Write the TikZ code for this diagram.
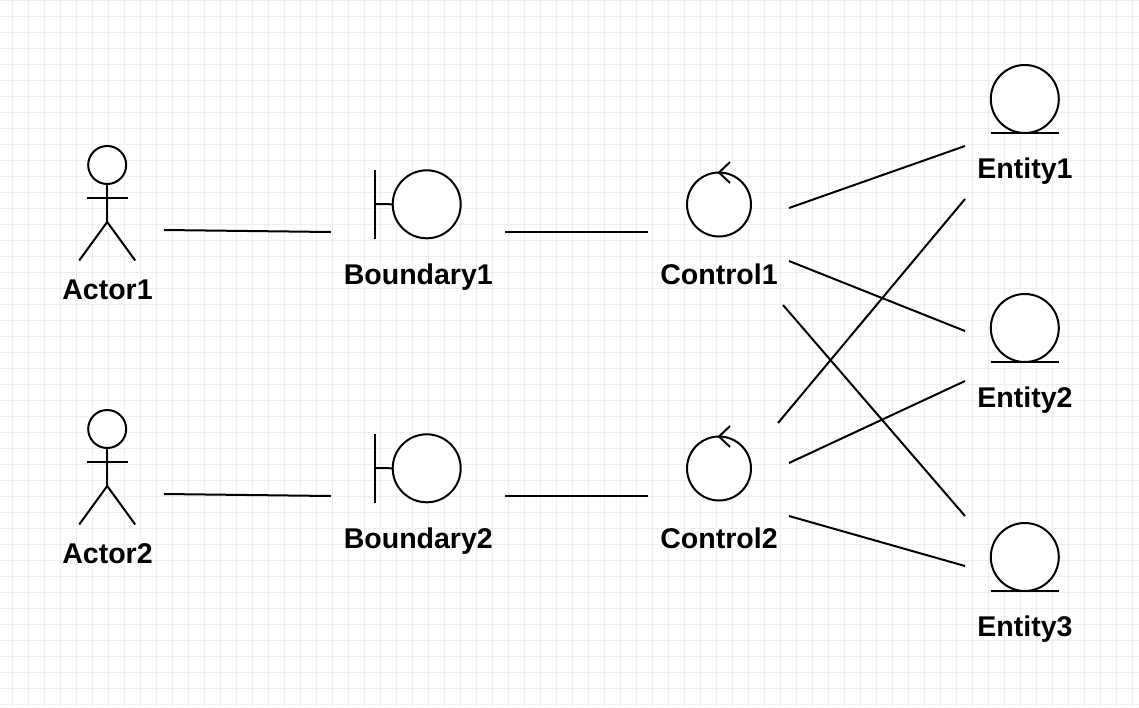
\documentclass[tikz,border=0pt]{standalone}
\usepackage{fontspec}
\setmainfont{Liberation Sans}
\usetikzlibrary{positioning}
\definecolor{gridgray}{HTML}{EEEEEE}
\tikzset{
  stroke/.style={line width=1.5pt, black},
  ball/.style={circle, draw=black, line width=1.5pt, fill=white, inner sep=0pt, outer sep=0pt},
  headball/.style={ball, minimum size=28.5pt},
  bigball/.style={ball, minimum size=51pt},
  ctrlball/.style={ball, minimum size=48pt},
  caption/.style={font=\fontsize{21.4}{26}\selectfont\bfseries, inner sep=0pt, anchor=base},
}
\begin{document}
\begin{tikzpicture}[x=0.75pt, y=-0.75pt]
\useasboundingbox (0,0) rectangle (1139,707);

% background grid
\foreach \gx in {0,...,70}
  \draw[gridgray, line width=0.75pt] ({12.5+16*\gx},0) -- ({12.5+16*\gx},707);
\foreach \gy in {0,...,44}
  \draw[gridgray, line width=0.75pt] (0,{0.5+16*\gy}) -- (1139,{0.5+16*\gy});

% actors
\node[headball] (head1) at (107.2,165) {};
\coordinate (hip1) at (107.2,222);
\draw[stroke] (head1.south) -- (hip1);
\draw[stroke] (87,198.2) -- (127.5,198.2);
\draw[stroke] (79.2,260.5) -- (hip1) -- (135.2,260.5);
\node[caption] (actor1) at (107.5,299.5) {Actor1};

\node[headball] (head2) at (107.2,429) {};
\coordinate (hip2) at (107.2,486);
\draw[stroke] (head2.south) -- (hip2);
\draw[stroke] (87,462.2) -- (127.5,462.2);
\draw[stroke] (79.2,524.5) -- (hip2) -- (135.2,524.5);
\node[caption] (actor2) at (107.5,563.5) {Actor2};

% boundaries
\node[bigball] (bound1) at (426.7,204.3) {};
\draw[stroke] (375.2,170) -- (375.2,238.5);
\draw[stroke] (375.2,204) -- (bound1.west);
\node[caption] (boundary1) at (418.3,284.2) {Boundary1};

\node[bigball] (bound2) at (426.7,468.3) {};
\draw[stroke] (375.2,434) -- (375.2,502.5);
\draw[stroke] (375.2,468) -- (bound2.west);
\node[caption] (boundary2) at (418.3,548.2) {Boundary2};

% controls
\node[ctrlball] (ctrl1) at (719,204.5) {};
\draw[stroke] (730,162) -- (ctrl1.north) -- (730,183);
\node[caption] (control1) at (719,284.2) {Control1};

\node[ctrlball] (ctrl2) at (719,468.5) {};
\draw[stroke] (730,426) -- (ctrl2.north) -- (730,447);
\node[caption] (control2) at (719,548.2) {Control2};

% entities
\node[bigball] (ent1) at (1024.8,99) {};
\draw[stroke] (990.5,133) -- (1059,133);
\node[caption] (entity1) at (1025,178.5) {Entity1};

\node[bigball] (ent2) at (1024.8,328) {};
\draw[stroke] (990.5,362) -- (1059,362);
\node[caption] (entity2) at (1025,407.5) {Entity2};

\node[bigball] (ent3) at (1024.8,557) {};
\draw[stroke] (990.5,591) -- (1059,591);
\node[caption] (entity3) at (1025,636.5) {Entity3};

% free ends of the links
\coordinate (a1r) at (164,230);
\coordinate (a2r) at (164,494);
\coordinate (b1l) at (331,232);
\coordinate (b2l) at (331,496);
\coordinate (b1r) at (505,232);
\coordinate (b2r) at (505,496);
\coordinate (c1l) at (648,232);
\coordinate (c2l) at (648,496);
\coordinate (c1x) at (789,208);
\coordinate (c1y) at (789,261);
\coordinate (c1z) at (783,305);
\coordinate (c2x) at (778,423);
\coordinate (c2y) at (789,463);
\coordinate (c2z) at (789,516);
\coordinate (e1x) at (965,146);
\coordinate (e1y) at (965,199);
\coordinate (e2x) at (965,331);
\coordinate (e2y) at (965,381);
\coordinate (e3x) at (965,516);
\coordinate (e3y) at (965,566);

\draw[stroke] (a1r) -- (b1l);
\draw[stroke] (a2r) -- (b2l);
\draw[stroke] (b1r) -- (c1l);
\draw[stroke] (b2r) -- (c2l);
\draw[stroke] (c1x) -- (e1x);
\draw[stroke] (c1y) -- (e2x);
\draw[stroke] (c1z) -- (e3x);
\draw[stroke] (c2x) -- (e1y);
\draw[stroke] (c2y) -- (e2y);
\draw[stroke] (c2z) -- (e3y);

\end{tikzpicture}
\end{document}
